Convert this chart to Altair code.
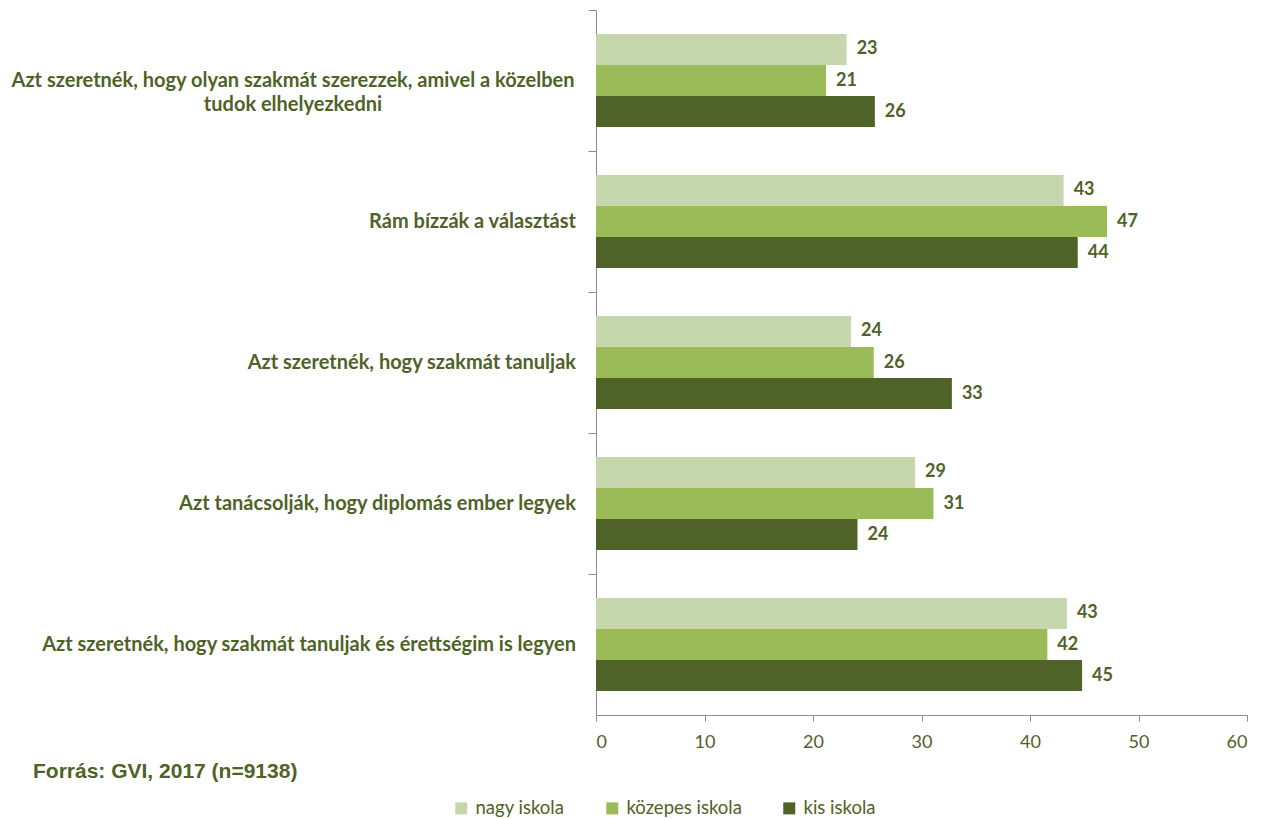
import altair as alt
import pandas as pd

categories = [
    "Azt szeretnék, hogy olyan szakmát szerezzek, amivel a közelben\ntudok elhelyezkedni",
    "Rám bízzák a választást",
    "Azt szeretnék, hogy szakmát tanuljak",
    "Azt tanácsolják, hogy diplomás ember legyek",
    "Azt szeretnék, hogy szakmát tanuljak és érettségim is legyen",
]
series = ["nagy iskola", "közepes iskola", "kis iskola"]
nagy = [23.1, 43.1, 23.5, 29.4, 43.4]
kozepes = [21.2, 47.1, 25.6, 31.1, 41.6]
kis = [25.7, 44.4, 32.8, 24.1, 44.8]
colors = ["#C6D7AE", "#9BBB59", "#4F6228"]
x_ticks = [0, 10, 20, 30, 40, 50, 60]
source_text = "Forrás: GVI, 2017 (n=9138)"

TEXT = "#4F6228"
GRAY = "#8C8C8C"

rows = []
for i, c in enumerate(categories):
    for s, vals in zip(series, [nagy, kozepes, kis]):
        rows.append({"cat": c, "series": s, "value": vals[i]})
df = pd.DataFrame(rows)
cat_df = pd.DataFrame({"cat": categories})
single_df = cat_df.iloc[1:]
multi_df = cat_df.iloc[:1]
src_df = pd.DataFrame({"t": [source_text]})

y_enc = alt.Y(
    "cat:N",
    sort=categories,
    scale=alt.Scale(paddingInner=0, paddingOuter=0),
    axis=alt.Axis(labels=False, title=None, domainColor=GRAY, tickColor=GRAY,
                  tickSize=8, bandPosition=0, grid=False),
)
x_enc = alt.X(
    "value:Q",
    scale=alt.Scale(domain=[0, 60], nice=False),
    axis=alt.Axis(values=x_ticks, title=None, grid=False, domainColor=GRAY,
                  tickColor=GRAY, tickSize=6, labelPadding=12,
                  labelFont="Lato", labelFontSize=18, labelColor=TEXT),
)
yoff = alt.YOffset("series:N", sort=series,
                   scale=alt.Scale(paddingInner=0, paddingOuter=0.774))

bars = alt.Chart(df).mark_bar().encode(
    y=y_enc,
    x=x_enc,
    yOffset=yoff,
    color=alt.Color(
        "series:N",
        sort=series,
        scale=alt.Scale(domain=series, range=colors),
        legend=alt.Legend(
            title=None, orient="none", direction="horizontal",
            legendX=-144, legendY=789, symbolType="square", symbolSize=144,
            symbolStrokeWidth=0, labelFont="Lato", labelFontSize=18.5,
            labelColor=TEXT, columnPadding=38, labelOffset=5,
        ),
    ),
)

vals = alt.Chart(df).mark_text(
    align="left", baseline="middle", dx=10, font="Lato", fontSize=18,
    fontWeight="bold", color=TEXT,
).encode(
    y=alt.Y("cat:N", sort=categories),
    x=alt.X("value:Q"),
    yOffset=yoff,
    text=alt.Text("value:Q", format=".0f"),
)

cat_labels = alt.Chart(single_df).mark_text(
    align="right", baseline="middle", font="Lato", fontSize=20,
    fontWeight="bold", color=TEXT,
).encode(
    y=alt.Y("cat:N", sort=categories),
    x=alt.value(-20),
    text="cat:N",
)

cat_labels_multi = alt.Chart(multi_df).mark_text(
    align="center", baseline="middle", font="Lato", fontSize=20,
    fontWeight="bold", color=TEXT, lineBreak="\n", lineHeight=24,
).encode(
    y=alt.Y("cat:N", sort=categories),
    x=alt.value(-303),
    text="cat:N",
)

src = alt.Chart(src_df).mark_text(
    align="left", baseline="middle", font="Liberation Sans", fontSize=21,
    fontWeight="bold", color=TEXT,
).encode(
    x=alt.value(-563),
    y=alt.value(762),
    text="t:N",
)

chart = alt.layer(bars, vals, cat_labels, cat_labels_multi, src).properties(
    width=651,
    height=705,
    autosize=alt.AutoSizeParams(type="none"),
    padding={"left": 588, "top": 2, "right": 11, "bottom": 110},
).configure_view(stroke=None)

chart.save("out.html", embed_options={"renderer": "svg", "actions": False})
